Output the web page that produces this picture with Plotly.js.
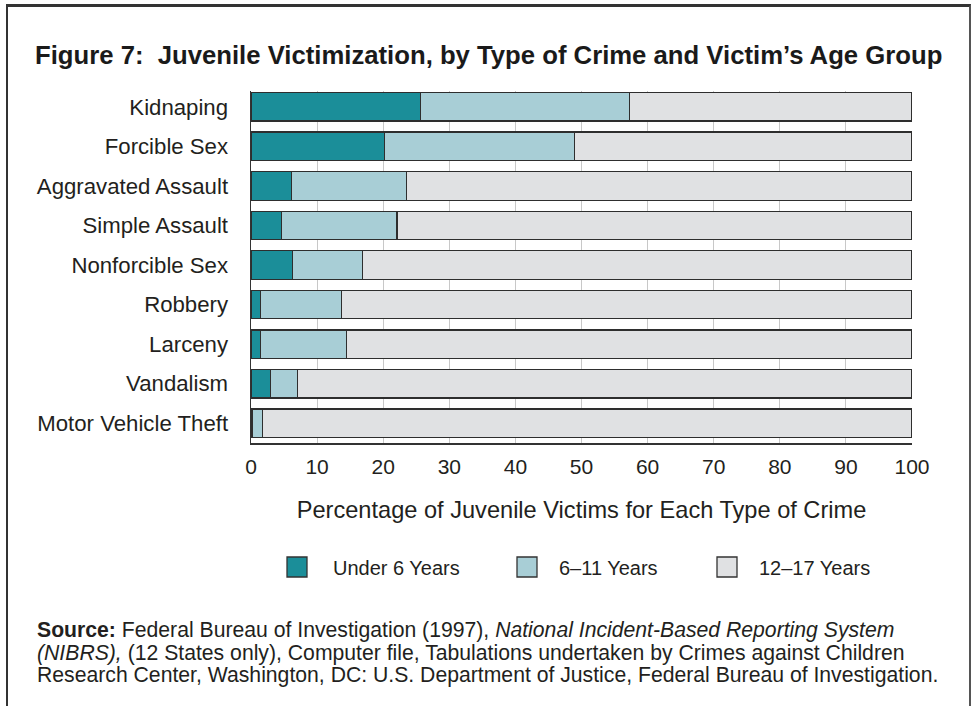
<!DOCTYPE html>
<html>
<head>
<meta charset="utf-8">
<script src="https://cdn.plot.ly/plotly-3.0.1.min.js"></script>
<style>
  html, body { margin: 0; padding: 0; background: #fff; }
  #wrap { position: relative; width: 975px; height: 706px; }
  #chart { width: 975px; height: 706px; }
  #frame { position: absolute; left: 6px; top: 4px; width: 965px; height: 720px;
           border-top: 3px solid #333; border-left: 2px solid #333; border-right: 2px solid #555;
           pointer-events: none; box-sizing: border-box; }
</style>
</head>
<body>
<div id="wrap">
  <div id="chart"></div>
  <div id="frame"></div>
</div>
<script>
// Data (percent of juvenile victims)
const crimes = ["Kidnaping", "Forcible Sex", "Aggravated Assault", "Simple Assault",
                "Nonforcible Sex", "Robbery", "Larceny", "Vandalism", "Motor Vehicle Theft"];
const under6 = [25.6, 20.2, 6.1, 4.6, 6.3, 1.4, 1.4, 3.0, 0.2];
const age6to11 = [31.7, 28.7, 17.4, 17.5, 10.6, 12.3, 13.0, 4.0, 1.5];
const age12to17 = [42.7, 51.1, 76.5, 77.9, 83.1, 86.3, 85.6, 93.0, 98.3];
const seriesNames = ["Under 6 Years", "6\u201311 Years", "12\u201317 Years"];
const xTicks = [0, 10, 20, 30, 40, 50, 60, 70, 80, 90, 100];

const colors = ["#1b8e99", "#a8ced6", "#e0e1e3"];
const seriesValues = [under6, age6to11, age12to17];
const FONT = "Liberation Sans, Arial, Helvetica, sans-serif";
const TXT = "#231f20";

const traces = seriesValues.map((vals, i) => ({
  type: "bar",
  orientation: "h",
  name: seriesNames[i],
  y: crimes,
  x: vals,
  width: 0.72,
  marker: { color: colors[i], line: { color: "#2e2e2e", width: 1.3 } },
  showlegend: false,
  hoverinfo: "x+y+name"
}));

// plot area geometry (px) used to place paper-referenced decorations
const L = 251, R = 912, T = 91, B = 443;
const px2x = p => (p - L) / (R - L);
const py2y = p => (B - p) / (B - T);

const shapes = [];
const annotations = [];
// manual legend
const legX = [287, 517, 717];
const legTextX = [331, 557, 757];
seriesNames.forEach((n, i) => {
  shapes.push({
    type: "rect", xref: "paper", yref: "paper",
    x0: px2x(legX[i]), x1: px2x(legX[i] + 20),
    y0: py2y(577), y1: py2y(557),
    fillcolor: colors[i], line: { color: "#333", width: 1.3 }
  });
  annotations.push({
    xref: "paper", yref: "paper", x: px2x(legTextX[i]), y: py2y(568),
    xanchor: "left", yanchor: "middle", showarrow: false,
    text: n, font: { family: FONT, size: 20, color: TXT }
  });
});

// source note
const srcLines = [
  "<b>Source:</b> Federal Bureau of Investigation (1997), <i>National Incident-Based Reporting System</i>",
  "<i>(NIBRS),</i> (12 States only), Computer file, Tabulations undertaken by Crimes against Children",
  "Research Center, Washington, DC: U.S. Department of Justice, Federal Bureau of Investigation."
];
const srcY = [630, 652.5, 675];
srcLines.forEach((t, i) => {
  annotations.push({
    xref: "paper", yref: "paper", x: px2x(35), y: py2y(srcY[i]),
    xanchor: "left", yanchor: "middle", showarrow: false, align: "left",
    text: t, font: { family: FONT, size: 21.2, color: TXT }
  });
});

const layout = {
  width: 975, height: 706,
  paper_bgcolor: "#ffffff", plot_bgcolor: "#ffffff",
  margin: { l: L, r: 975 - R, t: T, b: 706 - B, pad: 0 },
  barmode: "stack",
  bargap: 0.28,
  font: { family: FONT, color: TXT },
  title: {
    text: "<b>Figure 7:  Juvenile Victimization, by Type of Crime and Victim\u2019s Age Group</b>",
    x: 35 / 975, xref: "container", xanchor: "left",
    y: 1 - 55 / 706, yref: "container", yanchor: "middle",
    font: { family: FONT, size: 25.7, color: "#1a1a1a" }
  },
  xaxis: {
    range: [0, 100], tickvals: xTicks, ticktext: xTicks.map(String),
    showgrid: true, gridcolor: "#c8c8c8", gridwidth: 1,
    zeroline: false, showline: true, linecolor: "#333", linewidth: 1.5,
    ticks: "", ticklabelstandoff: 4,
    tickfont: { family: FONT, size: 21, color: TXT },
    title: { text: "Percentage of Juvenile Victims for Each Type of Crime",
             font: { family: FONT, size: 23.6, color: TXT }, standoff: 25 },
    fixedrange: true
  },
  yaxis: {
    type: "category", categoryorder: "array", categoryarray: crimes,
    range: [8.5, -0.4],
    showgrid: false, zeroline: false, showline: true, linecolor: "#333", linewidth: 1.5,
    ticks: "", ticklabelstandoff: 17,
    tickfont: { family: FONT, size: 22.2, color: TXT },
    fixedrange: true
  },
  shapes: shapes,
  annotations: annotations
};

Plotly.newPlot("chart", traces, layout, { displayModeBar: false, staticPlot: true });
</script>
</body>
</html>
